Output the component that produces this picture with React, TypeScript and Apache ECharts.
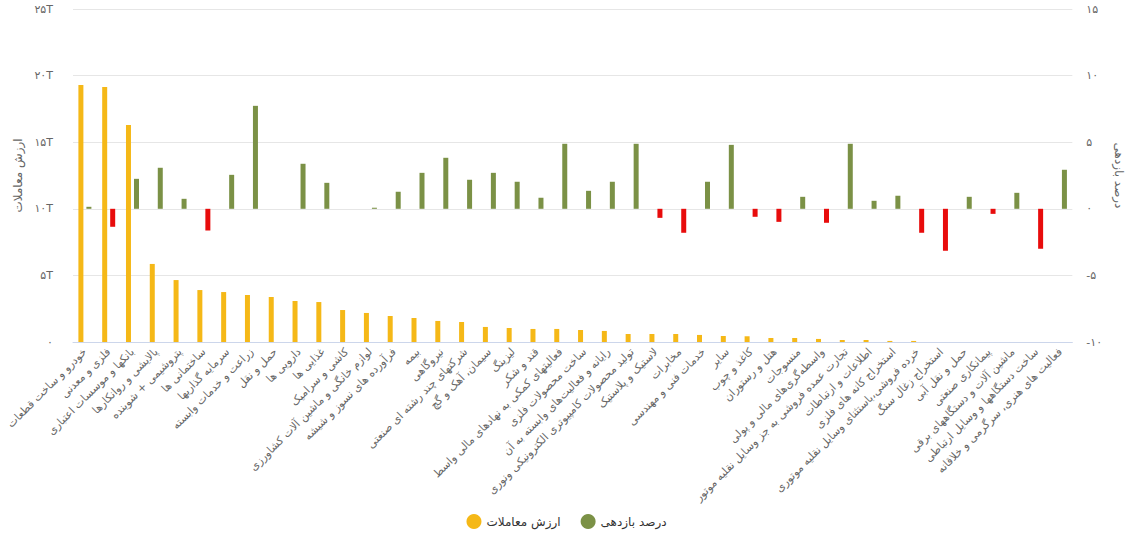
import React, { useEffect, useRef } from "react";
import * as echarts from "echarts";

const categories = [
  "خودرو و ساخت قطعات",
  "فلزی و معدنی",
  "بانکها و موسسات اعتباری",
  "پالایشی و روانکارها",
  "پتروشیمی + شوینده",
  "ساختمانی ها",
  "سرمایه گذاریها",
  "زراعت و خدمات وابسته",
  "حمل و نقل",
  "دارویی ها",
  "غذایی ها",
  "کاشی و سرامیک",
  "لوازم خانگی و ماشین آلات کشاورزی",
  "فرآورده های نسوز و شیشه",
  "بیمه",
  "نیروگاهی",
  "شرکتهای چند رشته ای صنعتی",
  "سیمان، آهک و گچ",
  "لیزینگ",
  "قند و شکر",
  "فعالیتهای کمکی به نهادهای مالی واسط",
  "ساخت محصولات فلزی",
  "رایانه و فعالیت‌های وابسته به آن",
  "تولید محصولات کامپیوتری الکترونیکی ونوری",
  "لاستیک و پلاستیک",
  "مخابرات",
  "خدمات فنی و مهندسی",
  "سایر",
  "کاغذ و چوب",
  "هتل و رستوران",
  "منسوجات",
  "واسطه‌گری‌های مالی و پولی",
  "تجارت عمده فروشی به جز وسایل نقلیه موتور",
  "اطلاعات و ارتباطات",
  "استخراج کانه های فلزی",
  "خرده فروشی،باستثنای وسایل نقلیه موتوری",
  "استخراج زغال سنگ",
  "حمل و نقل آبی",
  "پیمانکاری صنعتی",
  "ماشین آلات و دستگاههای برقی",
  "ساخت دستگاهها و وسایل ارتباطی",
  "فعالیت های هنری، سرگرمی و خلاقانه",
];

// Trading value, in T (trillion)
const tradeValue = [
  19.29, 19.14, 16.29, 5.86, 4.65, 3.9, 3.75, 3.53, 3.38, 3.08,
  3.0, 2.4, 2.18, 1.95, 1.8, 1.58, 1.5, 1.13, 1.05, 0.98,
  0.98, 0.9, 0.83, 0.6, 0.6, 0.6, 0.53, 0.45, 0.43, 0.3,
  0.3, 0.23, 0.15, 0.15, 0.08, 0.08, 0, 0, 0, 0,
  0, 0,
];

// Return, percent
const returnPct = [
  0.15, -1.35, 2.25, 3.08, 0.75, -1.63, 2.55, 7.73, 0, 3.38,
  1.95, 0, 0.08, 1.28, 2.7, 3.83, 2.18, 2.7, 2.03, 0.83,
  4.88, 1.35, 2.03, 4.88, -0.68, -1.8, 2.03, 4.8, -0.6, -0.98,
  0.9, -1.05, 4.88, 0.6, 0.98, -1.8, -3.15, 0.9, -0.38, 1.2,
  -3.0, 2.93,
];

const leftTicks = [0, 5, 10, 15, 20, 25];
const rightTicks = [-10, -5, 0, 5, 10, 15];

const seriesNames = ["ارزش معاملات", "درصد بازدهی"];

const YELLOW = "#f5b817";
const GREEN = "#7b9146";
const RED = "#e80c0c";

const faDigits = (s: string) =>
  s.replace(/[0-9]/g, (d) => "۰۱۲۳۴۵۶۷۸۹"[Number(d)]);

const FONT = "'DejaVu Sans', sans-serif";

export default function App() {
  const ref = useRef<HTMLDivElement>(null);
  useEffect(() => {
    document.body.style.margin = "0";
    if (!ref.current) return;
    const chart = echarts.init(ref.current, null, { renderer: "svg" });
    chart.setOption({
      animation: false,
      backgroundColor: "#ffffff",
      textStyle: { fontFamily: FONT },
      grid: { left: 73, right: 60, top: 9, bottom: 204, containLabel: false },
      legend: {
        bottom: 12,
        left: "center",
        icon: "circle",
        itemWidth: 15,
        itemHeight: 15,
        itemGap: 20,
        textStyle: { fontSize: 12, color: "#333", fontFamily: FONT },
        data: [
          { name: seriesNames[0], itemStyle: { color: YELLOW } },
          { name: seriesNames[1], itemStyle: { color: GREEN } },
        ],
      },
      xAxis: {
        type: "category",
        data: categories,
        axisTick: { show: false },
        axisLine: { lineStyle: { color: "#ccd6eb" } },
        axisLabel: {
          rotate: 45,
          interval: 0,
          fontSize: 11,
          color: "#666",
          fontFamily: FONT,
          margin: 8,
        },
      },
      yAxis: [
        {
          type: "value",
          min: leftTicks[0],
          max: leftTicks[leftTicks.length - 1],
          interval: 5,
          name: seriesNames[0],
          nameLocation: "middle",
          nameGap: 46,
          nameTextStyle: { fontSize: 12, color: "#666", fontFamily: FONT },
          axisLine: { show: false },
          axisTick: { show: false },
          splitLine: { lineStyle: { color: "#e6e6e6" } },
          axisLabel: {
            color: "#666",
            fontSize: 11,
            margin: 20,
            formatter: (v: number) => (v === 0 ? "۰" : faDigits(String(v)) + "T"),
          },
        },
        {
          type: "value",
          min: rightTicks[0],
          max: rightTicks[rightTicks.length - 1],
          interval: 5,
          name: seriesNames[1],
          nameLocation: "middle",
          nameGap: 40,
          nameRotate: -90,
          nameTextStyle: { fontSize: 12, color: "#666", fontFamily: FONT },
          axisLine: { show: false },
          axisTick: { show: false },
          splitLine: { show: false },
          axisLabel: {
            color: "#666",
            fontSize: 11,
            margin: 14,
            formatter: (v: number) => faDigits(String(v)),
          },
        },
      ],
      series: [
        {
          name: seriesNames[0],
          type: "bar",
          yAxisIndex: 0,
          data: tradeValue,
          barWidth: 5,
          barGap: "60%",
          itemStyle: { color: YELLOW },
        },
        {
          name: seriesNames[1],
          type: "bar",
          yAxisIndex: 1,
          data: returnPct,
          barWidth: 5,
          barGap: "60%",
          itemStyle: {
            color: (p: any) => (p.value < 0 ? RED : GREEN),
          },
        },
      ],
    });
    return () => chart.dispose();
  }, []);
  return <div ref={ref} style={{ width: 1133, height: 546 }} />;
}
